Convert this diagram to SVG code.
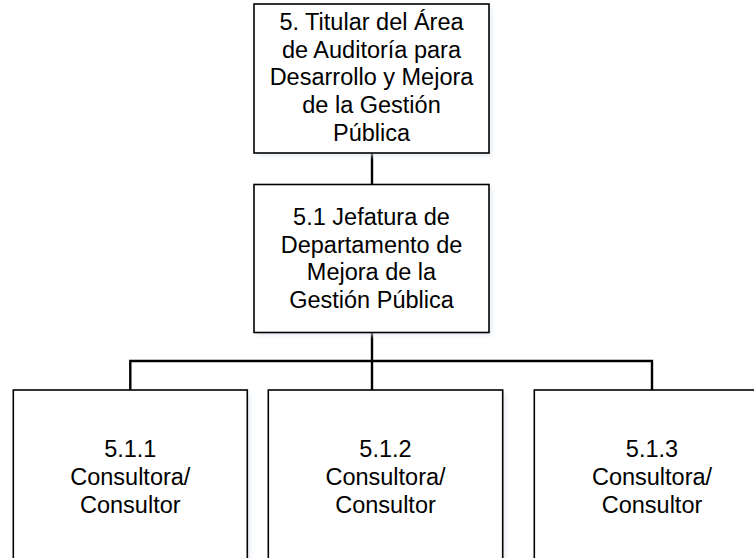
<svg xmlns="http://www.w3.org/2000/svg" width="754" height="558" viewBox="0 0 754 558">
  <style>
    .box { fill: #ffffff; stroke: #000000; stroke-width: 1.6; }
    .shadow { fill: #dfe6ef; opacity: 0.7; }
    .lbl { font-family: "Liberation Sans", Arial, sans-serif; font-size: 23.5px; fill: #000000; text-anchor: middle; }
    .conn { fill: none; stroke: #000000; stroke-width: 2.4; }
  </style>
  <defs>
    <filter id="sh" x="-10%" y="-10%" width="120%" height="120%">
      <feGaussianBlur stdDeviation="2"/>
    </filter>
  </defs>
  <rect width="754" height="558" fill="#ffffff"/>

  <g id="connectors">
    <path class="conn" d="M372,153 V184.5"/>
    <path class="conn" d="M372,332.5 V390"/>
    <path class="conn" d="M130.3,390 V361 H652 V390"/>
  </g>

  <g id="node-5">
    <rect class="shadow" x="257" y="7" width="235" height="149" filter="url(#sh)"/>
    <rect class="box" x="254" y="4" width="235" height="149"/>
    <text class="lbl" x="371.5" y="30">5. Titular del Área</text>
    <text class="lbl" x="371.5" y="57.7">de Auditoría para</text>
    <text class="lbl" x="371.5" y="85.4">Desarrollo y Mejora</text>
    <text class="lbl" x="371.5" y="113">de la Gestión</text>
    <text class="lbl" x="371.5" y="140.8">Pública</text>
  </g>

  <g id="node-5-1">
    <rect class="shadow" x="257" y="187.5" width="235" height="148" filter="url(#sh)"/>
    <rect class="box" x="254" y="184.5" width="235" height="148"/>
    <text class="lbl" x="371.5" y="225">5.1 Jefatura de</text>
    <text class="lbl" x="371.5" y="252.7">Departamento de</text>
    <text class="lbl" x="371.5" y="280.4">Mejora de la</text>
    <text class="lbl" x="371.5" y="308">Gestión Pública</text>
  </g>

  <g id="node-5-1-1">
    <rect class="shadow" x="16.3" y="393" width="234" height="180" filter="url(#sh)"/>
    <rect class="box" x="13.3" y="390" width="234" height="180"/>
    <text class="lbl" x="130.3" y="456.5">5.1.1</text>
    <text class="lbl" x="130.3" y="484.5">Consultora/</text>
    <text class="lbl" x="130.3" y="512.5">Consultor</text>
  </g>

  <g id="node-5-1-2">
    <rect class="shadow" x="271.3" y="393" width="234.4" height="180" filter="url(#sh)"/>
    <rect class="box" x="268.3" y="390" width="234.4" height="180"/>
    <text class="lbl" x="385.5" y="456.5">5.1.2</text>
    <text class="lbl" x="385.5" y="484.5">Consultora/</text>
    <text class="lbl" x="385.5" y="512.5">Consultor</text>
  </g>

  <g id="node-5-1-3">
    <rect class="shadow" x="537.3" y="393" width="234.4" height="180" filter="url(#sh)"/>
    <rect class="box" x="534.3" y="390" width="234.4" height="180"/>
    <text class="lbl" x="652" y="456.5">5.1.3</text>
    <text class="lbl" x="652" y="484.5">Consultora/</text>
    <text class="lbl" x="652" y="512.5">Consultor</text>
  </g>
</svg>
